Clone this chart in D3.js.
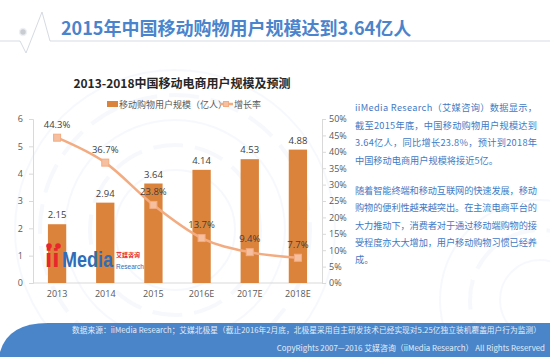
<!DOCTYPE html>
<html><head><meta charset="utf-8">
<script src="https://cdn.jsdelivr.net/npm/d3@7"></script>
<style>
html,body{margin:0;padding:0;background:#fff;}
svg{display:block;font-family:"Noto Sans CJK SC","Noto Sans",sans-serif;}
</style></head>
<body>
<svg id="c" width="550" height="357"></svg>
<script>
const categories = ["2013","2014","2015","2016E","2017E","2018E"];
const users = [2.15, 2.94, 3.64, 4.14, 4.53, 4.88];
const growth = [44.3, 36.7, 23.8, 13.7, 9.4, 7.7];
const leftTicks = [0,1,2,3,4,5,6];
const rightTicks = [0,5,10,15,20,25,30,35,40,45,50];
const pageTitle = "2015年中国移动购物用户规模达到3.64亿人";
const chartTitle = "2013-2018中国移动电商用户规模及预测";
const legendLabels = ["移动购物用户规模（亿人）","增长率"];
const para1 = ["iiMedia Research（艾媒咨询）数据显示，","截至2015年底，中国移动购物用户规模达到","3.64亿人，同比增长23.8%，预计到2018年","中国移动电商用户规模将接近5亿。"];
const para2 = ["随着智能终端和移动互联网的快速发展，移动","购物的便利性越来越突出。在主流电商平台的","大力推动下，消费者对于通过移动端购物的接","受程度亦大大增加，用户移动购物习惯已经养","成。"];
const footer1 = "数据来源：iiMedia Research；艾媒北极星（截止2016年2月底，北极星采用自主研发技术已经实现对5.25亿独立装机覆盖用户行为监测）";
const footer2 = "CopyRights 2007—2016 艾媒咨询（iiMedia Research） All Rights Reserved";

const svg = d3.select("#c");

// faint background circles
const bg = svg.append("g").attr("fill","none").attr("stroke","#eef3fa");
[[175,230,[60,85,110,135,160]],[540,300,[40,70,100]]].forEach(([cx,cy,rs])=>{
  rs.forEach((r,i)=>bg.append("circle").attr("cx",cx).attr("cy",cy).attr("r",r)
    .attr("stroke-width",i%2?4:2).attr("stroke-dasharray",i%2?"30 12":null).attr("opacity",0.55));
});

// header line with pulse
svg.append("path").attr("d","M0,41 L20,41 L26,53 L42,12 L50,41 L550,41")
  .attr("fill","none").attr("stroke","#d5dbe3").attr("stroke-width",1);
svg.append("circle").attr("cx",23).attr("cy",32).attr("r",3.5).attr("fill","#c9cdd2").attr("stroke","#eef0f3").attr("stroke-width",1.5);
svg.append("text").attr("x",61).attr("y",35).text(pageTitle)
  .attr("font-size",18).attr("font-weight","bold").attr("fill","#4a84cc");

// chart
const x = d3.scaleBand().domain(categories).range([33,322]).paddingInner(0.62).paddingOuter(0.31);
const yL = d3.scaleLinear().domain([0,6]).range([283,119]);
const yR = d3.scaleLinear().domain([0,50]).range([283,119]);

svg.append("text").attr("x",182).attr("y",88).attr("text-anchor","middle").text(chartTitle)
  .attr("font-size",12).attr("font-weight","bold").attr("fill","#262626");

// axes
const axL = svg.append("g").attr("transform","translate(33,0)")
  .call(d3.axisLeft(yL).tickValues(leftTicks).tickFormat(d3.format("d")).tickSize(4).tickPadding(6));
const axR = svg.append("g").attr("transform","translate(322,0)")
  .call(d3.axisRight(yR).tickValues(rightTicks).tickSize(4).tickPadding(3).tickFormat(d=>d+"%"));
const axB = svg.append("g").attr("transform","translate(0,283)")
  .call(d3.axisBottom(x).tickSize(0).tickPadding(8));
[axL,axR,axB].forEach(a=>{
  a.selectAll("path,line").attr("stroke","#d9d9d9");
  a.selectAll("text").attr("fill","#595959").attr("font-size",9).attr("font-family","'Open Sans','Noto Sans',sans-serif");
});
axB.select("path").attr("d","M33,0H322");

// bars
svg.append("g").selectAll("rect").data(users).join("rect")
  .attr("x",(d,i)=>x(categories[i])).attr("width",x.bandwidth())
  .attr("y",d=>yL(d)).attr("height",d=>yL(0)-yL(d)).attr("fill","#db833a");

// logo
const logo = svg.append("g");
logo.append("text").attr("x",45).attr("y",267).text("ii").attr("font-size",26).attr("font-weight","bold")
  .attr("fill","#e8262b").attr("font-family","'Liberation Sans',sans-serif");
logo.append("circle").attr("cx",49).attr("cy",246).attr("r",2.8).attr("fill","#e8262b");
logo.append("circle").attr("cx",58).attr("cy",246).attr("r",2.8).attr("fill","#e8262b");
logo.append("g").attr("transform","translate(62,267) scale(1,1.2)")
  .append("text").text("Media").attr("font-size",18).attr("font-weight","bold")
  .attr("fill","#2f6db8").attr("font-family","'Liberation Sans',sans-serif");
logo.append("text").attr("x",116).attr("y",256.5).text("艾媒咨询").attr("font-size",6).attr("font-weight","bold").attr("fill","#e8262b");
logo.append("text").attr("x",116).attr("y",268.5).text("Research").attr("font-size",6.5).attr("fill","#2f6db8").attr("font-family","'Liberation Sans',sans-serif");

// bar labels
svg.append("g").selectAll("text").data(users).join("text")
  .attr("x",(d,i)=>x(categories[i])+x.bandwidth()/2).attr("y",d=>yL(d)-6)
  .attr("text-anchor","middle").text(d=>d.toFixed(2))
  .attr("font-size",9.5).attr("fill","#404040").attr("font-family","'Open Sans','Noto Sans',sans-serif");

// line
const cx = (i)=>x(categories[i])+x.bandwidth()/2;
svg.append("path").datum(growth)
  .attr("d",d3.line().x((d,i)=>cx(i)).y(d=>yR(d)).curve(d3.curveMonotoneX))
  .attr("fill","none").attr("stroke","#f3ac82").attr("stroke-width",2.5);
svg.append("g").selectAll("rect").data(growth).join("rect")
  .attr("x",(d,i)=>cx(i)-3.5).attr("y",d=>yR(d)-3.5).attr("width",7).attr("height",7)
  .attr("fill","#f6bfa0").attr("stroke","#f3ac82").attr("stroke-width",1);
svg.append("g").selectAll("text").data(growth).join("text")
  .attr("x",(d,i)=>cx(i)).attr("y",d=>yR(d)-10)
  .attr("text-anchor","middle").text(d=>d.toFixed(1)+"%")
  .attr("font-size",9.5).attr("fill","#404040").attr("font-family","'Open Sans','Noto Sans',sans-serif");

// legend
const lg = svg.append("g");
lg.append("rect").attr("x",107).attr("y",101).attr("width",11).attr("height",6).attr("fill","#db833a");
lg.append("text").attr("x",119).attr("y",107.5).text(legendLabels[0]).attr("font-size",9).attr("fill","#595959");
lg.append("line").attr("x1",220).attr("x2",233).attr("y1",104).attr("y2",104).attr("stroke","#f3ac82").attr("stroke-width",2.5);
lg.append("rect").attr("x",223.5).attr("y",101.5).attr("width",5).attr("height",5).attr("fill","#f6bfa0").attr("stroke","#f3ac82");
lg.append("text").attr("x",234).attr("y",107.5).text(legendLabels[1]).attr("font-size",9).attr("fill","#595959");

// right text
const tb = svg.append("g").attr("fill","#3f7ac4").attr("font-size",9.2);
para1.forEach((t,i)=>{
  const e = tb.append("text").attr("x",355).attr("y",111+i*17.5).text(t);
  if(i<3) e.attr("textLength",182).attr("lengthAdjust","spacing");
});
para2.forEach((t,i)=>{
  const e = tb.append("text").attr("x",355).attr("y",194+i*17.3).text(t);
  if(i<4) e.attr("textLength",182).attr("lengthAdjust","spacing");
});

// footer
svg.append("path").attr("d","M550,323 L48,323 Q8,323 0,352 L0,357 L550,357 Z").attr("fill","#4a85c9");
svg.append("text").attr("x",541).attr("y",333).attr("text-anchor","end").text(footer1)
  .attr("font-size",7.7).attr("fill","#e3ecf7").attr("textLength",469).attr("lengthAdjust","spacing");
svg.append("text").attr("x",545).attr("y",351).attr("text-anchor","end").text(footer2)
  .attr("font-size",7.9).attr("fill","#e3ecf7");
</script>
</body></html>
